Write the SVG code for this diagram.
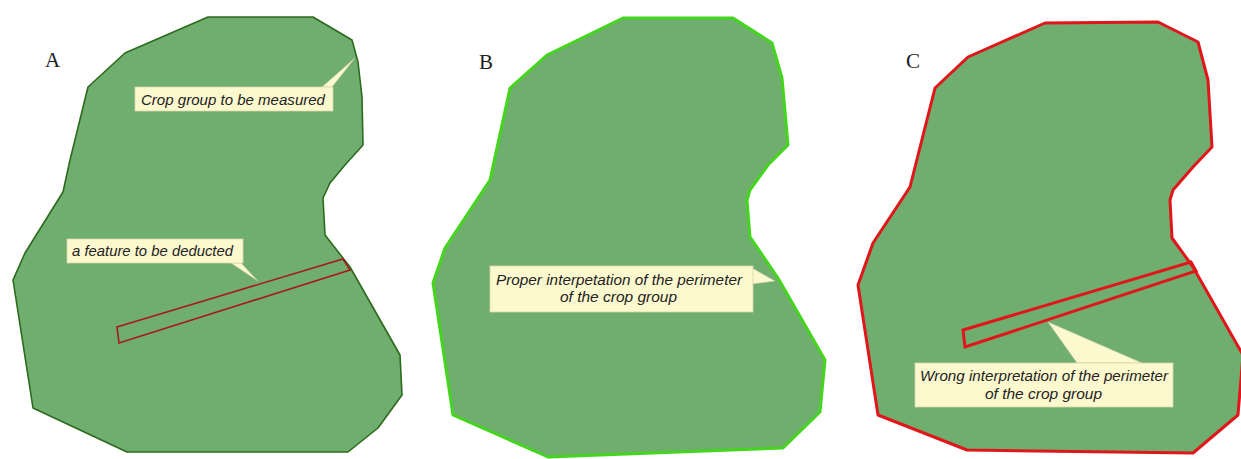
<svg xmlns="http://www.w3.org/2000/svg" width="1241" height="459" viewBox="0 0 1241 459">
<style>
.field{fill:#6fae6f;stroke-linejoin:round}
.fa{stroke:#2c6a1c;stroke-width:1.6}
.fb{stroke:#44d61e;stroke-width:3}
.fc{stroke:#e0161a;stroke-width:3}
.stripA{fill:none;stroke:#a81a1a;stroke-width:1.6}
.stripC{fill:none;stroke:#e0161a;stroke-width:3}
.box{fill:#fdf9cf;stroke:#d9d4a8;stroke-width:0.8}
.ptr{fill:#fdf9cf;stroke:#c9c8a6;stroke-width:0.6}
.note{font-family:"Liberation Sans",Arial,sans-serif;font-style:italic;font-size:15px;fill:#222222}
.panel{font-family:"Liberation Serif","Times New Roman",serif;font-size:21px;fill:#1e1e1e}
</style>
<rect width="1241" height="459" fill="#ffffff"/>
<g id="panelA">
<polygon class="field fa" points="88,87 125,53 208,17 313,17 352,40 358,62 362,97 363,145 345,165 330,183 323,198 325,235 350,267 400,355 402,395 378,428 348,452 127,452 33,408 13,280 25,253 63,192 70,160"/>
<polygon class="stripA" points="117,327 343,259 350,270 119,343"/>
<text class="panel" x="45" y="67">A</text>
</g>
<g id="panelB">
<polygon class="field fb" points="510,88 547,55 623,18 733,18 772,43 782,78 788,145 768,165 750,190 747,200 750,237 778,278 825,360 820,412 783,448 548,457 453,415 433,283 445,248 490,180"/>
<text class="panel" x="479" y="69">B</text>
</g>
<g id="panelC">
<polygon class="field fc" points="935,88 968,57 1045,23 1158,22 1198,42 1208,80 1212,147 1193,167 1173,190 1170,200 1172,238 1193,267 1243,355 1238,415 1193,453 967,450 878,415 858,285 873,243 910,187"/>
<polygon class="stripC" points="963,330 1191,262 1196,271 965,347"/>
<text class="panel" x="906" y="68">C</text>
</g>
<g id="connectors">
<polygon class="ptr" points="322,87 355,58 332,87"/>
<polygon class="ptr" points="231,263 258,281 241,263"/>
<polygon class="ptr" points="752,268 775,281 752,284"/>
<polygon class="ptr" points="1077,363 1048,322 1142,363"/>
</g>
<g id="note1">
<rect class="box" x="135" y="87" width="198" height="24"/>
<text class="note" x="141" y="105" textLength="184" lengthAdjust="spacingAndGlyphs">Crop group to be measured</text>
</g>
<g id="note2">
<rect class="box" x="67" y="239" width="176" height="24"/>
<text class="note" x="72" y="256" textLength="161" lengthAdjust="spacingAndGlyphs">a feature to be deducted</text>
</g>
<g id="note3">
<rect class="box" x="490" y="266" width="263" height="46"/>
<text class="note" x="496" y="285" textLength="246" lengthAdjust="spacingAndGlyphs">Proper interpetation of the perimeter</text>
<text class="note" x="560" y="302" textLength="117" lengthAdjust="spacingAndGlyphs">of the crop group</text>
</g>
<g id="note4">
<rect class="box" x="915" y="363" width="258" height="44"/>
<text class="note" x="920" y="381" textLength="248" lengthAdjust="spacingAndGlyphs">Wrong interpretation of the perimeter</text>
<text class="note" x="985" y="399" textLength="117" lengthAdjust="spacingAndGlyphs">of the crop group</text>
</g>
</svg>
